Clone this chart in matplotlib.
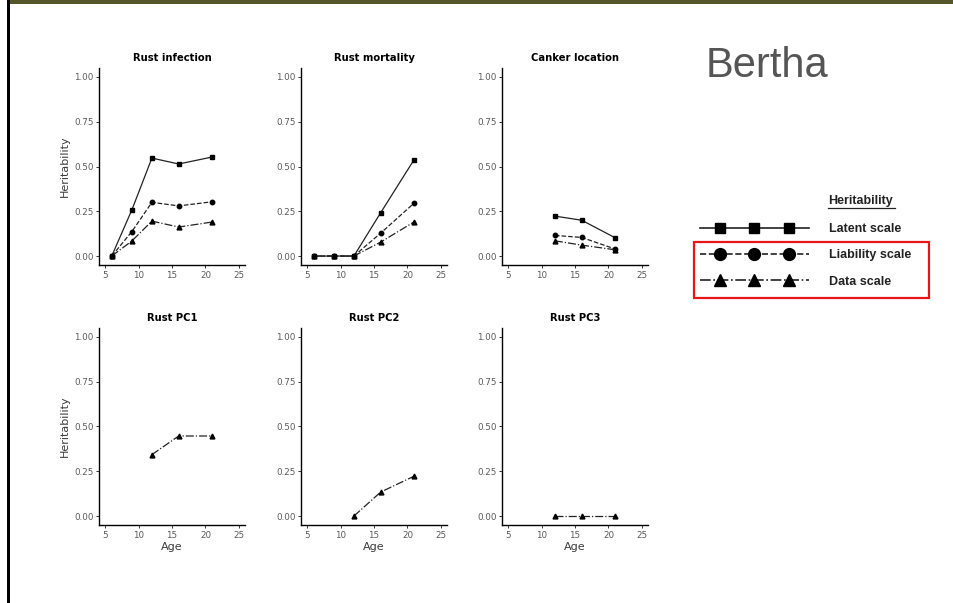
import matplotlib
matplotlib.use("Agg")
import matplotlib.pyplot as plt
from matplotlib.lines import Line2D
from matplotlib.patches import Rectangle
from matplotlib.legend_handler import HandlerLine2D, HandlerTuple

plt.rcParams["font.family"] = ["DejaVu Sans"]

# ages per panel
ages_full = [6, 9, 12, 16, 21]
ages_short = [12, 16, 21]

# Rust infection
infection_latent = [0, 0.257, 0.547, 0.514, 0.553]
infection_liability = [0, 0.136, 0.30, 0.28, 0.303]
infection_data = [0, 0.084, 0.195, 0.162, 0.19]

# Rust mortality
mortality_latent = [0, 0, 0, 0.242, 0.539]
mortality_liability = [0, 0, 0, 0.128, 0.296]
mortality_data = [0, 0, 0, 0.078, 0.191]

# Canker location
canker_latent = [0.223, 0.20, 0.102]
canker_liability = [0.115, 0.104, 0.039]
canker_data = [0.085, 0.061, 0.035]

# Rust PCs (data scale only)
pc1_data = [0.343, 0.447, 0.447]
pc2_data = [0, 0.134, 0.223]
pc3_data = [0, 0, 0]

titles = ["Rust infection", "Rust mortality", "Canker location",
          "Rust PC1", "Rust PC2", "Rust PC3"]
yticks = [0, 0.25, 0.5, 0.75, 1.0]
ytick_labels = ["0.00", "0.25", "0.50", "0.75", "1.00"]
xticks = [5, 10, 15, 20, 25]
legend_labels = ["Latent scale", "Liability scale", "Data scale"]

LINE_C = "#222222"
styles = {
    "latent": dict(ls="-", marker="s", ms=3.5),
    "liability": dict(ls="--", marker="o", ms=3.2),
    "data": dict(ls="-.", marker="^", ms=3.5),
}

panels = [
    (ages_full, {"latent": infection_latent, "liability": infection_liability, "data": infection_data}),
    (ages_full, {"latent": mortality_latent, "liability": mortality_liability, "data": mortality_data}),
    (ages_short, {"latent": canker_latent, "liability": canker_liability, "data": canker_data}),
    (ages_short, {"data": pc1_data}),
    (ages_short, {"data": pc2_data}),
    (ages_short, {"data": pc3_data}),
]

W, H = 954, 603
fig = plt.figure(figsize=(W / 100, H / 100), dpi=100)

# slide decoration
fig.add_artist(Rectangle((10 / W, 1 - 4 / H), 1, 4 / H, transform=fig.transFigure,
                         color="#55552a", lw=0))
fig.add_artist(Rectangle((7 / W, 0), 3 / W, 1, transform=fig.transFigure,
                         color="black", lw=0))

lefts = [99, 301, 502]
row_top = [68, 328]
ax_w, ax_h = 146, 197

for i, (title, (ages, series)) in enumerate(zip(titles, panels)):
    r, c = divmod(i, 3)
    ax = fig.add_axes([lefts[c] / W, 1 - (row_top[r] + ax_h) / H, ax_w / W, ax_h / H])
    for key, vals in series.items():
        st = styles[key]
        ax.plot(ages, vals, color=LINE_C, lw=0.9, ls=st["ls"], marker=st["marker"],
                ms=st["ms"], mfc="black", mec="black")
    ax.set_xlim(4.1, 25.9)
    ax.set_ylim(-0.05, 1.05)
    ax.set_xticks(xticks)
    ax.set_yticks(yticks)
    ax.set_yticklabels(ytick_labels)
    for s in ["top", "right"]:
        ax.spines[s].set_visible(False)
    for s in ["left", "bottom"]:
        ax.spines[s].set_linewidth(1.0)
        ax.spines[s].set_color("black")
    ax.tick_params(length=2.5, width=0.7, color="#333333", labelsize=6.3,
                   labelcolor="#5a5a5a", pad=1.5)
    ax.set_title(title, fontsize=7.2, fontweight="bold", pad=5)
    if c == 0:
        ax.set_ylabel("Heritability", fontsize=8, color="#3a3a3a", labelpad=3)
    if r == 1:
        ax.set_xlabel("Age", fontsize=8, color="#3a3a3a", labelpad=2)

# title text
fig.text(706 / W, 1 - 66 / H, "Bertha", fontsize=30, color="#555555",
         va="center", ha="left", family="Liberation Sans")

# legend: full-width line overlaid with three inset markers per entry
line_styles = ["-", "--", "-."]
marker_styles = [("s", 7), ("o", 8.5), ("^", 8)]
handles = []
hm = {}
for ls, (mk, ms) in zip(line_styles, marker_styles):
    ln = Line2D([], [], color=LINE_C, lw=1.2, ls=ls)
    mk_h = Line2D([], [], ls="none", marker=mk, ms=ms, mfc="black", mec="black")
    hm[ln] = HandlerLine2D(numpoints=1)
    hm[mk_h] = HandlerLine2D(marker_pad=1.6, numpoints=3)
    handles.append((ln, mk_h))
hm[tuple] = HandlerTuple(ndivide=1, pad=0)
leg = fig.legend(handles, legend_labels, loc="upper left",
                 bbox_to_anchor=(700 / W, 1 - 223 / H), frameon=False,
                 handlelength=8.7, handletextpad=1.6, borderaxespad=0,
                 labelspacing=1.15, borderpad=0, handler_map=hm,
                 prop={"weight": "bold", "size": 9, "family": "Liberation Sans"})
for t in leg.get_texts():
    t.set_color("#222222")

fig.text(828 / W, 1 - 201 / H, "Heritability", fontsize=9, fontweight="bold",
         color="#222222", va="center", ha="left", family="Liberation Sans")
fig.add_artist(Line2D([828 / W, 895 / W], [1 - 208 / H, 1 - 208 / H],
                      transform=fig.transFigure, color="#222222", lw=0.9))

# red highlight box
fig.add_artist(Rectangle((694 / W, 1 - 298 / H), 235 / W, 56 / H,
                         transform=fig.transFigure, fill=False,
                         edgecolor="#e8151b", lw=1.6))

fig.savefig("out.png", dpi=100)
plt.close(fig)
